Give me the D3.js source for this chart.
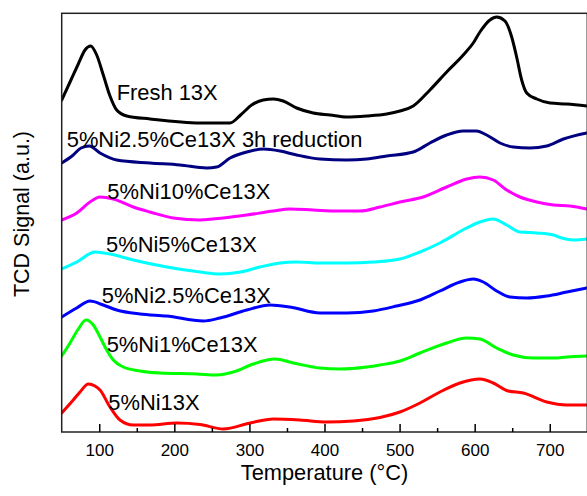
<!DOCTYPE html>
<html>
<head>
<meta charset="utf-8">
<script src="https://cdn.jsdelivr.net/npm/d3@7"></script>
<style>
  html, body { margin: 0; padding: 0; background: #fff; }
  svg { display: block; font-family: "Liberation Sans", Arial, sans-serif; }
</style>
</head>
<body>
<svg id="chart" width="587" height="496"></svg>
<script>
// H2-TPR profiles (TCD signal, offset per sample), temperature in °C
const freshT = [50, 61.1, 72.1, 81.0, 88.6, 96.6, 105.4, 114.3, 123.2, 136.6, 167.6, 234.2, 274.2, 288.2, 303.0, 318.5, 331.8, 345.0, 362.9, 385.0, 407.3, 429.5, 456.2, 482.8, 500.5, 518.2, 540.4, 562.7, 584.8, 598.1, 607.0, 620.3, 629.3, 640.3, 649.3, 655.9, 662.6, 669.3, 682.7, 700.4, 722.7, 749.4];
const freshS = [33.2, 35.0, 36.8, 38.2, 38.6, 37.7, 35.7, 33.6, 32.2, 31.6, 31.3, 30.9, 30.9, 31.7, 32.7, 33.2, 33.3, 33.1, 32.4, 31.9, 31.7, 31.5, 31.6, 31.8, 32.1, 32.6, 34.2, 36.0, 37.7, 38.9, 40.0, 41.2, 41.5, 41.1, 39.5, 37.5, 35.2, 33.9, 33.3, 32.9, 32.8, 32.6];

const red3hT = [50, 65.4, 75.7, 86.8, 101, 123.2, 167.6, 207.5, 243.1, 256.4, 274.2, 296.4, 318.5, 340.9, 362.9, 394.0, 429.5, 456.2, 482.8, 518.2, 540.4, 562.7, 584.8, 602.6, 615.9, 633.7, 651.4, 673.7, 696.0, 718.2, 749.4];
const red3hS = [26.9, 27.7, 28.4, 28.6, 27.9, 27.2, 26.9, 26.7, 26.4, 26.5, 27.4, 28.0, 28.3, 28.1, 27.7, 27.3, 27.2, 27.3, 27.6, 28.0, 28.9, 29.7, 30.1, 30.1, 29.7, 28.9, 28.5, 28.4, 28.6, 29.3, 29.9];

const ce10T = [50, 70, 87.7, 101, 118.7, 145.3, 167.6, 198.6, 234.2, 265.2, 296.4, 331.8, 354.0, 385.0, 416.2, 447.2, 473.9, 500.5, 531.5, 562.7, 589.3, 607.0, 624.7, 642.6, 660.3, 682.7, 704.8, 727.1, 749.4];
const ce10S = [21.2, 21.9, 23.0, 23.5, 23.3, 22.5, 22.0, 21.4, 21.2, 21.4, 21.7, 22.1, 22.3, 22.2, 22.1, 22.1, 22.5, 23.0, 23.5, 24.5, 25.3, 25.5, 25.2, 24.2, 23.5, 23.0, 22.7, 22.6, 22.3];

const ce5T = [50, 70, 94.3, 114.3, 145.3, 189.8, 234.2, 260.8, 288.2, 314.1, 340.9, 362.9, 394.0, 429.5, 464.9, 500.5, 527.1, 553.7, 589.3, 607.0, 624.7, 642.6, 660.3, 682.7, 704.8, 716.0, 731.5, 749.4];
const ce5S = [16.3, 17.0, 18.0, 17.8, 17.2, 16.5, 16.0, 15.8, 16.0, 16.5, 16.9, 17.0, 16.9, 16.9, 17.0, 17.3, 18.0, 18.9, 20.4, 21.0, 21.3, 20.7, 20.0, 19.9, 19.7, 19.4, 19.2, 19.3];

const ce25T = [50, 70, 87.7, 105.4, 123.2, 154.3, 189.8, 238.6, 260.8, 296.4, 327.4, 354.0, 394.0, 429.5, 464.9, 496.1, 527.1, 553.7, 580.4, 598.1, 611.4, 629.3, 647.0, 669.3, 696.0, 722.7, 749.4];
const ce25S = [11.5, 12.4, 13.1, 12.7, 12.2, 11.8, 11.6, 11.1, 11.4, 12.2, 12.7, 12.5, 11.9, 11.9, 12.1, 12.6, 13.2, 14.1, 15.0, 15.3, 15.0, 14.1, 13.5, 13.4, 13.6, 14.0, 14.4];

const ce1T = [50, 61.1, 72.1, 82.4, 92.1, 101, 109.9, 118.7, 132.0, 154.3, 180.9, 229.8, 256.4, 278.6, 305.2, 334.1, 358.4, 394.0, 420.6, 456.2, 473.9, 500.5, 527.1, 562.7, 589.3, 607.0, 629.3, 651.4, 678.1, 704.8, 722.7, 749.4];
const ce1S = [7.6, 8.9, 10.3, 11.2, 10.7, 9.5, 8.2, 7.2, 6.5, 6.1, 5.9, 5.8, 5.7, 6.0, 6.8, 7.3, 6.9, 6.4, 6.3, 6.5, 6.7, 7.1, 7.9, 8.9, 9.4, 9.3, 8.4, 7.7, 7.4, 7.4, 7.5, 7.6];

const ni13T = [50, 65.4, 74.4, 85.4, 94.3, 101, 114.3, 127.6, 145.3, 167.6, 203.1, 234.2, 265.2, 300.8, 331.8, 367.3, 402.9, 438.3, 473.9, 500.5, 527.1, 553.7, 580.4, 607.0, 624.7, 644.7, 664.7, 696.0, 722.7, 749.4];
const ni13S = [1.9, 3.2, 4.0, 4.8, 4.6, 4.2, 2.5, 1.2, 0.7, 0.7, 0.9, 0.75, 0.3, 0.9, 1.3, 1.2, 1.0, 1.1, 1.45, 2.0, 2.9, 4.0, 4.9, 5.3, 4.9, 4.1, 3.9, 3.0, 2.7, 2.7];

// Sample names, line colours and label anchors (temperature, signal)
const names  = ["Fresh 13X", "5%Ni2.5%Ce13X 3h reduction", "5%Ni10%Ce13X", "5%Ni5%Ce13X", "5%Ni2.5%Ce13X", "5%Ni1%Ce13X", "5%Ni13X"];
const colors = ["#000000", "#000080", "#ff00ff", "#00ffff", "#0000ff", "#00ff00", "#ff0000"];
const labelT = [123.2, 56.7, 110.7, 109, 103.3, 109.9, 112];
const labelS = [33.2, 28.55, 23.27, 18.03, 12.87, 8.03, 2.2];

const majorTicks = [100, 200, 300, 400, 500, 600, 700];
const minorTicks = [150, 250, 350, 450, 550, 650];

const temps   = [freshT, red3hT, ce10T, ce5T, ce25T, ce1T, ni13T];
const signals = [freshS, red3hS, ce10S, ce5S, ce25S, ce1S, ni13S];

const series = names.map((name, i) => ({
  name,
  color: colors[i],
  points: temps[i].map((t, j) => [t, signals[i][j]]),
  lx: labelT[i],
  ly: labelS[i]
}));

const svg = d3.select("#chart");
const margin = { left: 61.7, right: 587.3, top: 13.3, bottom: 432 };

const x = d3.scaleLinear().domain([50, 750]).range([margin.left, margin.right]);
const y = d3.scaleLinear().domain([0, 41.87]).range([margin.bottom, margin.top]);

const plot = svg.append("g");
plot.append("clipPath").attr("id", "clip")
  .append("rect")
  .attr("x", margin.left).attr("y", margin.top)
  .attr("width", margin.right - margin.left).attr("height", margin.bottom - margin.top);

const line = d3.line()
  .x(d => x(d[0]))
  .y(d => y(d[1]))
  .curve(d3.curveMonotoneX);

plot.append("g").attr("clip-path", "url(#clip)")
  .selectAll("path")
  .data(series)
  .join("path")
  .attr("d", d => line(d.points))
  .attr("fill", "none")
  .attr("stroke", d => d.color)
  .attr("stroke-width", 3)
  .attr("stroke-linejoin", "round")
  .attr("stroke-linecap", "round");

// Sample labels
svg.append("g")
  .selectAll("text")
  .data(series)
  .join("text")
  .attr("x", d => x(d.lx))
  .attr("y", d => y(d.ly))
  .attr("font-size", 21.9)
  .attr("fill", "#000")
  .text(d => d.name);

// Frame
svg.append("rect")
  .attr("x", margin.left).attr("y", margin.top)
  .attr("width", margin.right - margin.left).attr("height", margin.bottom - margin.top)
  .attr("fill", "none")
  .attr("stroke", "#222")
  .attr("stroke-width", 1.5);

// Bottom axis: major ticks with labels, pointing inward
const xAxis = d3.axisBottom(x)
  .tickValues(majorTicks)
  .tickSizeInner(-8)
  .tickSizeOuter(0)
  .tickPadding(11.5)
  .tickFormat(d3.format("d"));

const gx = svg.append("g")
  .attr("transform", `translate(0,${margin.bottom})`)
  .call(xAxis);
gx.select(".domain").remove();
gx.selectAll(".tick line").attr("stroke", "#000").attr("stroke-width", 1.5);
gx.selectAll(".tick text")
  .attr("font-size", 17)
  .attr("font-family", "Liberation Sans, Arial, sans-serif")
  .attr("fill", "#000");

// Minor ticks
const gm = svg.append("g")
  .attr("transform", `translate(0,${margin.bottom})`)
  .call(d3.axisBottom(x).tickValues(minorTicks).tickSizeInner(-4).tickSizeOuter(0).tickFormat(""));
gm.select(".domain").remove();
gm.selectAll(".tick line").attr("stroke", "#000").attr("stroke-width", 1.5);

// Axis titles
svg.append("text")
  .attr("x", (margin.left + margin.right) / 2)
  .attr("y", 479.5)
  .attr("text-anchor", "middle")
  .attr("font-size", 21.8)
  .attr("fill", "#000")
  .text("Temperature (°C)");

svg.append("text")
  .attr("transform", "translate(28.5,214) rotate(-90)")
  .attr("text-anchor", "middle")
  .attr("font-size", 21.5)
  .attr("fill", "#000")
  .text("TCD Signal (a.u.)");
</script>
</body>
</html>
